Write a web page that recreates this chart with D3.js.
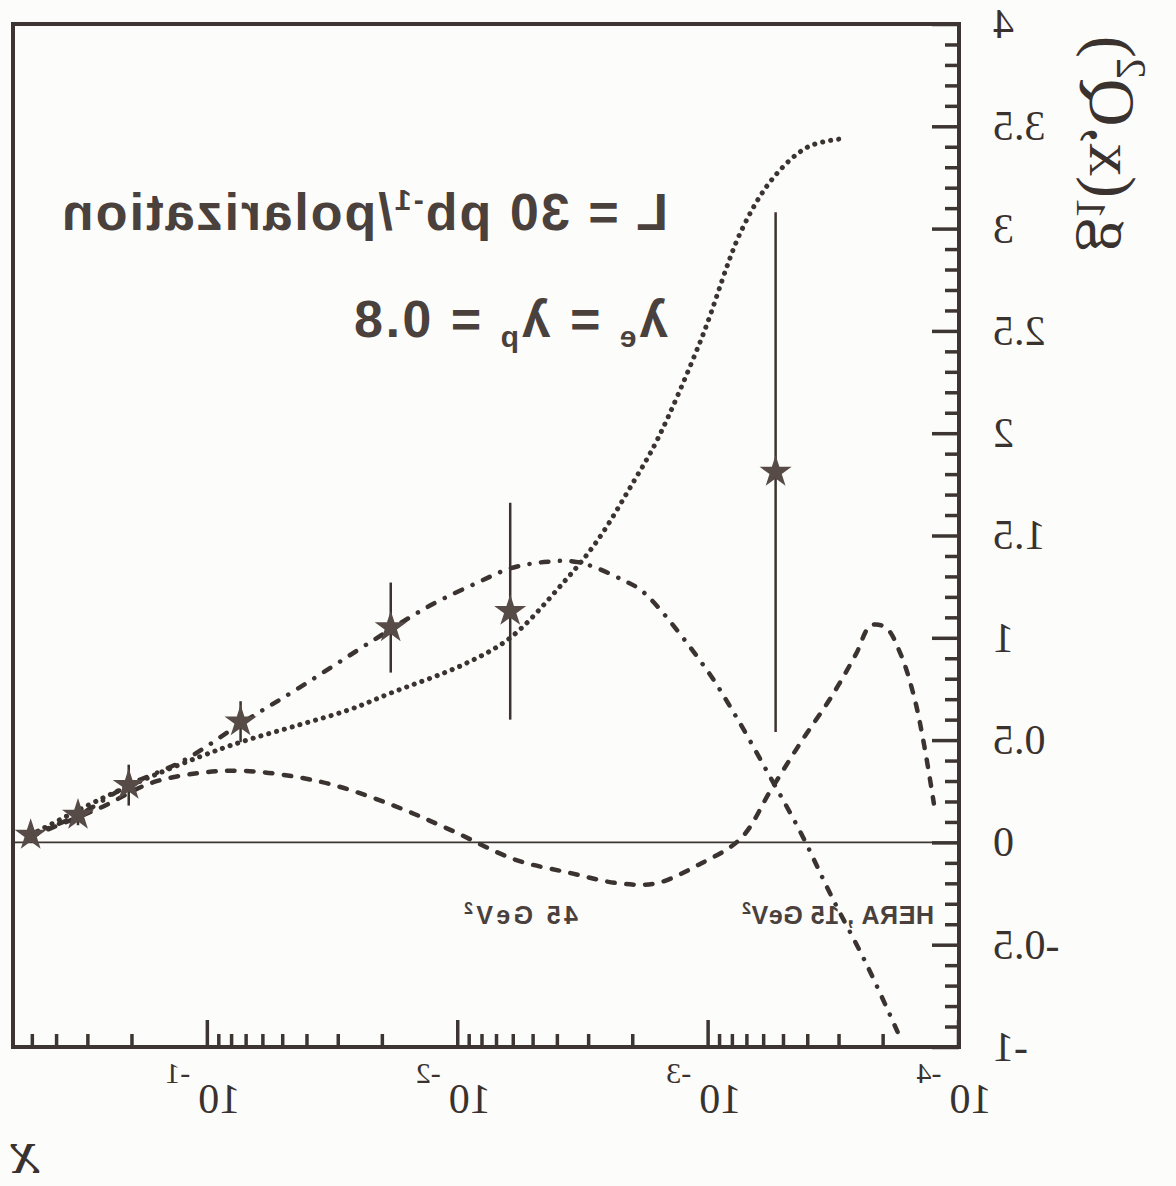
<!DOCTYPE html>
<meta charset="utf-8">
<style>
body { margin: 0; background: #fcfcfa; }
svg { display: block; }
.frame { fill: none; stroke: #3d3532; stroke-width: 4; }
.axis path { display: none; }
.axis line { stroke: #3d3532; stroke-width: 3.5; }
.axis text { font-family: "Liberation Serif", serif; font-size: 42px; fill: #3a322f; }
.curve { fill: none; stroke: #3b3330; stroke-width: 4.5; stroke-linecap: round; }
.note { font-family: "Liberation Sans", Arial, sans-serif; font-weight: bold; fill: #4a403c; }
.serif { font-family: "Liberation Serif", serif; fill: #3a322f; }
</style>
<svg width="1176" height="1186"></svg>
<script src="https://d3js.org/d3.v7.min.js"></script>
<script>
// points: x (log axis) and g1
var starX   = [0.51, 0.33, 0.207, 0.074, 0.0186, 0.0062, 0.00054];
var starY   = [0.036, 0.134, 0.28, 0.59, 1.05, 1.13, 1.81];
var starErr = [0.02, 0.05, 0.1, 0.1, 0.22, 0.53, 1.27];

var dotX = [0.51, 0.27, 0.17, 0.107, 0.074, 0.043, 0.027, 0.0186, 0.0095, 0.0062, 0.0038, 0.0028, 0.0020, 0.0016, 0.00107, 0.00074, 0.00055, 0.00040, 0.00029];
var dotY = [0.036, 0.21, 0.32, 0.42, 0.49, 0.575, 0.65, 0.73, 0.87, 1.0, 1.27, 1.47, 1.76, 1.97, 2.46, 2.99, 3.25, 3.40, 3.44];

var dashDotX = [0.51, 0.328, 0.207, 0.125, 0.074, 0.0426, 0.0217, 0.01285, 0.00836, 0.00617, 0.00455, 0.00333, 0.00218, 0.00181, 0.00104, 0.00079, 0.00058, 0.000428, 0.000324, 0.000231, 0.000171];
var dashDotY = [0.036, 0.134, 0.28, 0.40, 0.58, 0.76, 0.99, 1.16, 1.27, 1.34, 1.37, 1.37, 1.28, 1.22, 0.86, 0.63, 0.34, 0.046, -0.26, -0.61, -0.96];

var dashX = [0.51, 0.268, 0.169, 0.107, 0.074, 0.0498, 0.0314, 0.0181, 0.0107, 0.0059, 0.00355, 0.00229, 0.00162, 0.0011, 0.000743, 0.000564, 0.000428, 0.000324, 0.000258, 0.000225, 0.000196, 0.000171, 0.000151, 0.000138, 0.000126];
var dashY = [0.03, 0.17, 0.29, 0.34, 0.35, 0.33, 0.28, 0.18, 0.06, -0.085, -0.15, -0.20, -0.20, -0.11, 0.02, 0.256, 0.49, 0.71, 0.92, 1.06, 1.05, 0.92, 0.71, 0.48, 0.19];

var yTicks = [-1, -0.5, 0, 0.5, 1, 1.5, 2, 2.5, 3, 3.5, 4];
var xExp = [-1, -2, -3, -4];

var svg = d3.select("svg");
// the picture is a left-right mirror of the plot, so draw it normally and flip
var g = svg.append("g").attr("transform", "translate(1176,0) scale(-1,1)");

var box = {l: 217, r: 1163, t: 24, b: 1047};
var x = d3.scaleLog().domain([1e-4, 0.6]).range([box.l, box.r]);
var y = d3.scaleLinear().domain([-1, 4]).range([box.b, box.t]);

// minor ticks
var yMinor = d3.range(-10, 41).map(function(i) { return i / 10; })
    .filter(function(v) { return Math.abs(v * 2 - Math.round(v * 2)) > 1e-6; });
g.append("g").attr("class", "axis")
    .attr("transform", "translate(" + box.l + ",0)")
    .call(d3.axisLeft(y).tickValues(yMinor).tickSizeInner(-14).tickSizeOuter(0).tickFormat(""));

g.append("g").attr("class", "axis")
    .attr("transform", "translate(" + box.l + ",0)")
    .call(d3.axisLeft(y).tickValues(yTicks).tickSizeInner(-27).tickSizeOuter(0)
        .tickPadding(34).tickFormat(function(d) { return String(d); }));

var xMinor = [];
[-4, -3, -2, -1].forEach(function(e) {
    for (var m = 2; m <= 9; m++) {
        var v = m * Math.pow(10, e);
        if (v <= 0.6) xMinor.push(v);
    }
});
g.append("g").attr("class", "axis")
    .attr("transform", "translate(0," + box.b + ")")
    .call(d3.axisBottom(x).tickValues(xMinor).tickSizeInner(-13).tickSizeOuter(0).tickFormat(""));
g.append("g").attr("class", "axis")
    .attr("transform", "translate(0," + box.b + ")")
    .call(d3.axisBottom(x).tickValues(xExp.map(function(e) { return Math.pow(10, e); }))
        .tickSizeInner(-27).tickSizeOuter(0).tickFormat(""));

// decade labels 10^-n
var xl = g.append("g").selectAll("text").data(xExp).enter().append("text")
    .attr("class", "serif")
    .attr("x", function(e) { return x(Math.pow(10, e)) + 5; })
    .attr("y", 1113)
    .attr("text-anchor", "middle")
    .style("font-size", "42px");
xl.append("tspan").text("10");
xl.append("tspan").attr("dx", 8).attr("dy", -30).style("font-size", "30px")
    .text(function(e) { return String(e); });

// frame and zero line
g.append("rect").attr("class", "frame")
    .attr("x", box.l).attr("y", box.t).attr("width", box.r - box.l).attr("height", box.b - box.t);
g.append("line")
    .attr("x1", box.l).attr("x2", box.r).attr("y1", y(0)).attr("y2", y(0))
    .style("stroke", "#3d3532").style("stroke-width", 1.6);

// curves
var line = d3.line()
    .x(function(d) { return x(d[0]); })
    .y(function(d) { return y(d[1]); })
    .curve(d3.curveCatmullRom.alpha(0.5));
function pairs(a, b) { return a.map(function(v, i) { return [v, b[i]]; }); }

g.append("path").attr("class", "curve").attr("d", line(pairs(dotX, dotY)))
    .style("stroke-dasharray", "0.1,8").style("stroke-width", 5);
g.append("path").attr("class", "curve").attr("d", line(pairs(dashDotX, dashDotY)))
    .style("stroke-dasharray", "7.5,11.5,0.1,11.5");
g.append("path").attr("class", "curve").attr("d", line(pairs(dashX, dashY)))
    .style("stroke-dasharray", "7.5,11.5");

// data points
var pts = pairs(starX, starY).map(function(p, i) { return {x: p[0], y: p[1], e: starErr[i]}; });
g.append("g").selectAll("line").data(pts).enter().append("line")
    .attr("x1", function(d) { return x(d.x); })
    .attr("x2", function(d) { return x(d.x); })
    .attr("y1", function(d) { return y(d.y - d.e); })
    .attr("y2", function(d) { return y(d.y + d.e); })
    .style("stroke", "#3b3330").style("stroke-width", 2.5);
g.append("g").selectAll("path").data(pts).enter().append("path")
    .attr("d", d3.symbol(d3.symbolStar, 320))
    .attr("transform", function(d) { return "translate(" + x(d.x) + "," + y(d.y) + ")"; })
    .style("fill", "#574b47");

// annotations
var t1 = g.append("text").attr("class", "note").attr("x", 508).attr("y", 230)
    .attr("textLength", 606).attr("lengthAdjust", "spacing").style("font-size", "52px");
t1.append("tspan").text("L = 30 pb");
t1.append("tspan").attr("dy", -20).style("font-size", "30px").text("-1");
t1.append("tspan").attr("dy", 20).text("/polarization");

var t2 = g.append("text").attr("class", "note").attr("x", 508).attr("y", 337)
    .attr("textLength", 314).attr("lengthAdjust", "spacing").style("font-size", "52px");
t2.append("tspan").text("λ");
t2.append("tspan").attr("dy", 10).style("font-size", "30px").text("e");
t2.append("tspan").attr("dy", -10).text(" = λ");
t2.append("tspan").attr("dy", 10).style("font-size", "30px").text("p");
t2.append("tspan").attr("dy", -10).text(" = 0.8");

var t3 = g.append("text").attr("class", "note").attr("x", 242).attr("y", 924)
    .attr("textLength", 192).attr("lengthAdjust", "spacing").style("font-size", "25px");
t3.append("tspan").text("HERA , 15 GeV");
t3.append("tspan").attr("dy", -10).style("font-size", "16px").text("2");

var t4 = g.append("text").attr("class", "note").attr("x", 598).attr("y", 924)
    .attr("textLength", 114).attr("lengthAdjust", "spacing").style("font-size", "25px");
t4.append("tspan").text("45 GeV");
t4.append("tspan").attr("dy", -10).style("font-size", "16px").text("2");

// axis titles
g.append("text").attr("class", "serif")
    .attr("x", 1166).attr("y", 1173).attr("text-anchor", "end")
    .style("font-size", "64px").style("font-style", "italic").text("x");

var yt = g.append("text").attr("class", "serif")
    .attr("transform", "translate(86,252) rotate(-90)")
    .style("font-size", "66px");
yt.append("tspan").text("g");
yt.append("tspan").attr("dy", 13).style("font-size", "42px").text("1");
yt.append("tspan").attr("dy", -13).text("(x,Q");
yt.append("tspan").attr("dy", -27).style("font-size", "42px").text("2");
yt.append("tspan").attr("dy", 27).text(")");
</script>
